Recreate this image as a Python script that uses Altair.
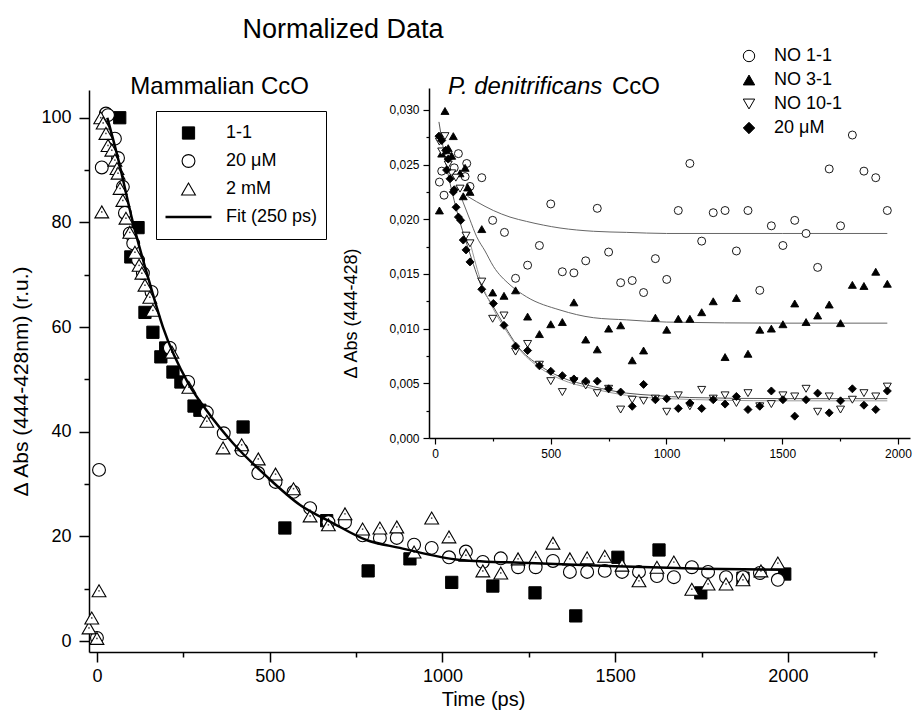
import altair as alt
import pandas as pd

FONT = "Liberation Sans"

# ---------------- Mammalian CcO (main panel) ----------------
sq_t = [66, 98, 119, 139, 162, 185, 199, 220, 243, 281, 298, 423, 544, 665, 785,
        906, 1027, 1146, 1268, 1386, 1508, 1627, 1748, 1870, 1991]
sq_v = [100, 73.4, 79, 62.8, 59, 54.3, 56, 51.4, 49.5, 44.9, 44.1, 40.9, 21.6, 23, 13.4,
        15.7, 11.2, 10.5, 9.2, 4.8, 16.0, 17.4, 9.2, 12, 12.8]

ci_t = [0, 6, 14, 26, 32, 52, 61, 75, 81, 95, 105, 119, 133, 158, 211, 264, 318, 367,
        419, 467, 517, 569, 617, 670, 718, 769, 819, 868, 918, 969, 1019, 1068, 1117,
        1169, 1219, 1270, 1320, 1369, 1419, 1470, 1520, 1569, 1621, 1670, 1722, 1769,
        1821, 1870, 1919, 1971]
ci_v = [0.6, 32.7, 90.5, 100.8, 100.5, 96, 92.3, 86.8, 81.8, 77.9, 76, 72.8, 70.3, 66.7,
        56, 49.5, 43.7, 39.7, 36.5, 32.1, 30.4, 28.5, 25.4, 22.7, 22.7, 20.2, 19.7, 19.7,
        18.4, 17.8, 16.0, 17.1, 15.1, 15.8, 14.1, 14.1, 15.3, 13.2, 13.2, 13.4, 13.2,
        13.2, 12.4, 12.2, 14.1, 13.2, 12.2, 12.2, 13.0, 11.7]

tr_t = [-23, -15, 0, 6, 14, 11, 18, 26, 32, 43, 52, 58, 61, 67, 75, 84, 95, 110, 122,
        130, 139, 153, 162, 217, 266, 318, 365, 419, 467, 517, 569, 617, 670, 718, 769,
        819, 868, 918, 969, 1019, 1068, 1117, 1169, 1219, 1270, 1320, 1369, 1419, 1470,
        1520, 1569, 1621, 1670, 1722, 1769, 1821, 1870, 1922, 1971]
tr_v = [2.5, 4.4, 0.5, 9.6, 82, 100, 99, 97, 94.7, 93.8, 91.9, 90.3, 89.4, 86.5, 84.2,
        80.8, 78.1, 74.3, 71.8, 70.3, 68, 65.7, 63.2, 55.2, 48.5, 42, 36.9, 37.5, 34.8,
        31.9, 29.1, 23.9, 22.2, 24.3, 21.4, 21.6, 21.8, 17.0, 23.5, 19.9, 16.4, 13.4,
        13.0, 15.7, 16.0, 18.7, 15.7, 15.9, 16.2, 14.5, 11.5, 14.1, 15.1, 9.9, 10.9,
        10.9, 11.7, 13.4, 14.9]

fit_t = [30, 60, 104, 150, 191, 264, 318, 394, 492, 588, 684, 780, 877, 1051, 1250,
         1500, 1750, 1990]
fit_v = [100, 92.5, 80, 69, 60, 49.3, 44, 37.8, 31.4, 26, 22.5, 19.3, 17.8, 15.5, 14.9,
         14.3, 13.8, 13.6]

MAIN_SERIES = ["1-1", "20 \u03bcM", "2 mM", "Fit (250 ps)"]

# ---------------- P. denitrificans CcO (inset) ----------------
n11_t = [19, 29, 39, 83, 101, 130, 137, 151, 202, 249, 300, 348, 400, 451, 500, 550, 600,
         651, 701, 750, 802, 852, 901, 952, 1001, 1051, 1101, 1152, 1202, 1253, 1302,
         1352, 1403, 1453, 1503, 1554, 1603, 1653, 1703, 1752, 1803, 1853, 1904, 1954]
n11_v = [.0234, .0244, .0222, .0247, .0260, .0239, .0251, .0230, .0238, .0199, .0188,
         .0146, .0158, .0176, .0214, .0152, .0151, .0162, .0210, .0170, .0142, .0144,
         .0133, .0164, .0145, .0208, .0251, .0180, .0206, .0208, .0171, .0208, .0135,
         .0194, .0176, .0199, .0187, .0156, .0246, .0194, .0277, .0244, .0238, .0208]

n31_t = [19, 29, 43, 50, 57, 72, 79, 108, 122, 130, 141, 151, 202, 249, 298, 348, 400,
         451, 500, 550, 600, 651, 701, 750, 802, 852, 901, 952, 1001, 1051, 1101, 1152,
         1202, 1253, 1302, 1352, 1403, 1453, 1503, 1554, 1603, 1653, 1703, 1752, 1803,
         1853, 1904, 1954]
n31_v = [.0208, .0260, .0299, .0263, .0265, .0258, .0276, .0242, .0221, .0247, .0229,
         .0225, .0191, .0133, .0130, .0135, .0111, .0095, .0104, .0106, .0124, .0090,
         .0081, .0100, .0103, .0071, .0080, .0110, .0099, .0109, .0109, .0115, .0125,
         .0074, .0128, .0077, .0099, .0100, .0104, .0123, .0106, .0112, .0122, .0105,
         .0140, .0139, .0152, .0141]

n101_t = [19, 29, 43, 57, 72, 90, 108, 134, 151, 202, 249, 298, 348, 400, 451, 500, 550,
          600, 651, 701, 750, 802, 852, 901, 952, 1001, 1051, 1101, 1152, 1202, 1253,
          1302, 1352, 1403, 1453, 1503, 1554, 1603, 1653, 1703, 1752, 1803, 1853, 1904,
          1954]
n101_v = [.0271, .0262, .0276, .0250, .0242, .0238, .0228, .0185, .0178, .0143, .0109,
          .0112, .0079, .0086, .0067, .0052, .0042, .0052, .0048, .0041, .0045, .0026,
          .0035, .0034, .0036, .0024, .0039, .0029, .0044, .0036, .0039, .0032, .0041,
          .0029, .0031, .0039, .0038, .0045, .0024, .0038, .0026, .0035, .0041, .0038,
          .0047]

d20_t = [17, 29, 46, 50, 57, 65, 79, 83, 91, 101, 111, 122, 134, 151, 202, 252, 298, 348,
         400, 451, 500, 550, 600, 651, 701, 750, 802, 852, 901, 952, 1001, 1051, 1101,
         1152, 1202, 1253, 1302, 1352, 1403, 1453, 1503, 1554, 1603, 1653, 1703, 1752,
         1803, 1853, 1904, 1954]
d20_v = [.0276, .0272, .0263, .0245, .0255, .0237, .0225, .0227, .0211, .0202, .0199,
         .0181, .0172, .0161, .0136, .0123, .0103, .0084, .0080, .0066, .0061, .0057,
         .0054, .0052, .0052, .0045, .0042, .0029, .0049, .0035, .0036, .0027, .0032,
         .0027, .0035, .0031, .0038, .0026, .0029, .0043, .0035, .0020, .0035, .0041,
         .0023, .0034, .0045, .0030, .0026, .0043]

f11_t = [140, 180, 252, 324, 396, 540, 684, 828, 1000, 1500, 1954]
f11_v = [.0221, .0216, .0208, .0202, .0198, .0192, .0189, .0188, .0187, .0187, .0187]
f31_t = [115, 150, 180, 216, 252, 324, 396, 540, 684, 828, 1000, 1500, 1954]
f31_v = [.0219, .0200, .0184, .0171, .0157, .0140, .0129, .0117, .0110, .0108, .0106,
         .0105, .0105]
f20_t = [17, 50, 94, 144, 202, 252, 302, 353, 454, 540, 684, 828, 943, 1100, 1500, 1954]
f20_v = [.0289, .0248, .0208, .0173, .0138, .0120, .0102, .0085, .0066, .0056, .0047,
         .0041, .0039, .0037, .0036, .0036]
f101_t = [150, 202, 252, 302, 353, 454, 540, 684, 828, 1000, 1500, 1954]
f101_v = [.0180, .0141, .0118, .0100, .0084, .0064, .0054, .0045, .0039, .0036, .0034,
          .0034]

INSET_SERIES = ["NO 1-1", "NO 3-1", "NO 10-1", "20 \u03bcM"]
FIT_NAMES = ["f11", "f31", "f20", "f101"]

# text labels
TITLE = ["Normalized Data"]
SUB_MAIN = ["Mammalian CcO"]
SUB_INSET_IT = ["P. denitrificans"]
SUB_INSET_RM = ["CcO"]


def frame(t, v, **cols):
    d = pd.DataFrame({"t": t, "v": v})
    for k, val in cols.items():
        d[k] = val
    return d


main_df = pd.concat([
    frame(sq_t, sq_v, Main=MAIN_SERIES[0]),
    frame(ci_t, ci_v, Main=MAIN_SERIES[1]),
    frame(tr_t, tr_v, Main=MAIN_SERIES[2]),
], ignore_index=True)
tri_df = frame(tr_t, tr_v)
fit_df = frame(fit_t, fit_v)

inset_df = pd.concat([
    frame(n11_t, n11_v, Inset=INSET_SERIES[0]),
    frame(n31_t, n31_v, Inset=INSET_SERIES[1]),
    frame(n101_t, n101_v, Inset=INSET_SERIES[2]),
    frame(d20_t, d20_v, Inset=INSET_SERIES[3]),
], ignore_index=True)
ifit_df = pd.concat([
    frame(f11_t, f11_v, fit=FIT_NAMES[0]),
    frame(f31_t, f31_v, fit=FIT_NAMES[1]),
    frame(f20_t, f20_v, fit=FIT_NAMES[2]),
    frame(f101_t, f101_v, fit=FIT_NAMES[3]),
], ignore_index=True)

W, H = 788, 562

# ---------------- main scales / axes ----------------
mx_scale = alt.Scale(domain=[-23, 2258], nice=False, zero=False)
my_scale = alt.Scale(domain=[-2.1, 105.3], nice=False, zero=False)

main_x_axis = alt.Axis(orient="bottom", values=[0, 500, 1000, 1500, 2000], format="d",
                       title="Time (ps)", tickSize=10, labelPadding=5, labelFontSize=18,
                       titleFontSize=20, titlePadding=4, domainWidth=1.5, tickWidth=1.5)
main_y_axis = alt.Axis(orient="left", values=[0, 20, 40, 60, 80, 100], format="d",
                       title="\u0394 Abs (444-428nm) (r.u.)", tickSize=10, labelPadding=8,
                       labelFontSize=18, titleFontSize=21, titlePadding=9, titleY=291,
                       domainWidth=1.5, tickWidth=1.5)
MX = alt.X("t:Q", scale=mx_scale, axis=main_x_axis)
MY = alt.Y("v:Q", scale=my_scale, axis=main_y_axis)

main_legend = alt.Legend(
    title=None, orient="none", legendX=67, legendY=21, direction="vertical", columns=1,
    padding=8, clipHeight=28, rowPadding=0, labelOffset=13, labelFontSize=18,
    labelFont=FONT, labelColor="black", strokeColor="black",
    symbolStrokeColor="black", symbolOpacity=1,
    labelExpr="datum.label == 'Fit (250 ps)' ? datum.label + '\u2003\u2009' : datum.label",
)

pts = alt.Chart(main_df).mark_point(opacity=1).encode(
    x=MX, y=MY,
    shape=alt.Shape("Main:N", scale=alt.Scale(domain=MAIN_SERIES,
                    range=["square", "circle", "triangle-up", "stroke"]), legend=main_legend),
    fill=alt.Fill("Main:N", scale=alt.Scale(domain=MAIN_SERIES,
                  range=["black", "white", "white", "black"]), legend=main_legend),
    stroke=alt.Stroke("Main:N", scale=alt.Scale(domain=MAIN_SERIES,
                      range=["black", "black", "black", "black"]), legend=main_legend),
    size=alt.Size("Main:N", scale=alt.Scale(type="ordinal", domain=MAIN_SERIES,
                  range=[150, 165, 190, 2116]), legend=main_legend),
    strokeWidth=alt.StrokeWidth("Main:N", scale=alt.Scale(type="ordinal", domain=MAIN_SERIES,
                                range=[1, 1.1, 1.1, 2.5]), legend=main_legend),
)
dots = alt.Chart(tri_df).mark_point(filled=True, size=3, color="#444", opacity=1).encode(
    x=MX, y=MY)
fit = alt.Chart(fit_df).mark_line(color="black", strokeWidth=2.5, interpolate="monotone").encode(
    x=MX, y=MY)
main_layer = alt.layer(pts, dots, fit)

dummy = pd.DataFrame({"t": [0], "v": [0]})
main_minor = alt.Chart(dummy).mark_point(opacity=0).encode(
    x=alt.X("t:Q", scale=mx_scale, axis=alt.Axis(orient="bottom", values=[250, 750, 1250, 1750, 2250],
            labels=False, domain=False, tickSize=5, tickWidth=1.5, title=None)),
    y=alt.Y("v:Q", scale=my_scale, axis=alt.Axis(orient="left", values=[10, 30, 50, 70, 90],
            labels=False, domain=False, tickSize=5, tickWidth=1.5, title=None)),
)

# ---------------- inset scales / axes ----------------
ix_scale = alt.Scale(domain=[-26, 2052], range=[340, 821], nice=False, zero=False)
iy_scale = alt.Scale(domain=[0, 0.032], range=[348, -2], nice=False, zero=False)

inset_x_axis = alt.Axis(orient="bottom", offset=-214, values=[0, 500, 1000, 1500, 2000],
                        format="d", title=None, tickSize=6, labelPadding=4, labelFontSize=12,
                        domainWidth=1.5, tickWidth=1.2)
inset_y_axis = alt.Axis(orient="left", offset=-340,
                        values=[0, 0.005, 0.010, 0.015, 0.020, 0.025, 0.030],
                        labelExpr="replace(format(datum.value, '.3f'), '.', ',')",
                        title="\u0394 Abs (444-428)", titleFontSize=18, titleX=-78, titleY=223,
                        titleAngle=270, titleAlign="center", titleBaseline="middle",
                        tickSize=6, labelPadding=4, labelFontSize=12,
                        domainWidth=1.5, tickWidth=1.2)
IX = alt.X("t:Q", scale=ix_scale, axis=inset_x_axis)
IY = alt.Y("v:Q", scale=iy_scale, axis=inset_y_axis)

inset_legend = alt.Legend(
    title=None, orient="none", legendX=651, legendY=-43, direction="vertical", columns=1,
    padding=0, clipHeight=18, rowPadding=6, labelOffset=16, labelFontSize=18,
    labelFont=FONT, labelColor="black", symbolSize=130, symbolStrokeColor="black",
    symbolOpacity=1, symbolStrokeWidth=1,
)

ipts = alt.Chart(inset_df).mark_point(opacity=1, size=64, strokeWidth=0.9).encode(
    x=IX, y=IY,
    shape=alt.Shape("Inset:N", scale=alt.Scale(domain=INSET_SERIES,
                    range=["circle", "triangle-up", "triangle-down", "diamond"]), legend=inset_legend),
    fill=alt.Fill("Inset:N", scale=alt.Scale(domain=INSET_SERIES,
                  range=["white", "black", "white", "black"]), legend=inset_legend),
    stroke=alt.Stroke("Inset:N", scale=alt.Scale(domain=INSET_SERIES,
                      range=["black", "black", "black", "black"]), legend=inset_legend),
)
ifit = alt.Chart(ifit_df).mark_line(strokeWidth=1, interpolate="monotone").encode(
    x=IX, y=IY,
    color=alt.Color("fit:N", scale=alt.Scale(domain=FIT_NAMES,
                    range=["#666", "#666", "#555", "#999"]), legend=None),
)
inset_layer = alt.layer(ifit, ipts)

inset_minor = alt.Chart(dummy).mark_point(opacity=0).encode(
    x=alt.X("t:Q", scale=ix_scale, axis=alt.Axis(orient="bottom", offset=-214,
            values=[250, 750, 1250, 1750], labels=False, domain=False, tickSize=3,
            tickWidth=1.2, title=None)),
    y=alt.Y("v:Q", scale=iy_scale, axis=alt.Axis(orient="left", offset=-340,
            values=[0.0025, 0.0075, 0.0125, 0.0175, 0.0225, 0.0275], labels=False,
            domain=False, tickSize=3, tickWidth=1.2, title=None)),
)

# ---------------- text ----------------
title_txt = alt.Chart(pd.DataFrame({"label": TITLE})).mark_text(
    font=FONT, fontSize=27, align="center", baseline="alphabetic", color="black"
).encode(text="label:N", x=alt.value(254), y=alt.value(-52))
sub_main = alt.Chart(pd.DataFrame({"label": SUB_MAIN})).mark_text(
    font=FONT, fontSize=24, align="right", baseline="alphabetic", color="black"
).encode(text="label:N", x=alt.value(220), y=alt.value(4))
sub_it = alt.Chart(pd.DataFrame({"label": SUB_INSET_IT})).mark_text(
    font=FONT, fontSize=24, fontStyle="italic", align="left", baseline="alphabetic", color="black"
).encode(text="label:N", x=alt.value(359), y=alt.value(4))
sub_rm = alt.Chart(pd.DataFrame({"label": SUB_INSET_RM})).mark_text(
    font=FONT, fontSize=24, align="left", baseline="alphabetic", color="black"
).encode(text="label:N", x=alt.value(523), y=alt.value(4))

chart = alt.layer(
    main_layer, main_minor, inset_layer, inset_minor, title_txt, sub_main, sub_it, sub_rm
).resolve_scale(
    x="independent", y="independent", shape="independent", fill="independent",
    size="independent", strokeWidth="independent", stroke="independent",
    color="independent",
).resolve_axis(
    x="independent", y="independent",
).resolve_legend(
    shape="independent", fill="independent", size="independent", strokeWidth="independent",
    stroke="independent",
).properties(
    width=W, height=H,
    padding={"left": 89, "top": 90, "right": 37, "bottom": 60},
    autosize=alt.AutoSizeParams(type="none"),
).configure_view(stroke=None).configure_axis(
    grid=False, labelFont=FONT, titleFont=FONT, domainColor="black", tickColor="black",
    labelColor="black", titleColor="black", titleFontWeight="normal",
).configure_legend(labelFont=FONT, labelColor="black")

chart.save("out.html", embed_options={"renderer": "svg", "actions": False})
